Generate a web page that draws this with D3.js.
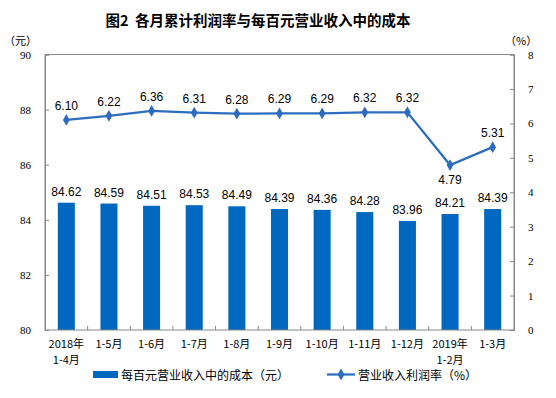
<!DOCTYPE html>
<html>
<head>
<meta charset="utf-8">
<script src="https://cdn.jsdelivr.net/npm/d3@7"></script>
<style>
  body { margin: 0; background: #fff; }
  svg text { font-family: "Noto Sans CJK SC", sans-serif; }
  .tick text { font-family: "Liberation Serif", serif; font-size: 11px; fill: #000; }
  .val { font-family: "Liberation Sans", Arial, sans-serif; font-size: 12px; fill: #000; }
</style>
</head>
<body>
<div id="chart-area"></div>
<script>
const width = 556,
  height = 398;

const months = ["2018年\n1-4月", "1-5月", "1-6月", "1-7月", "1-8月", "1-9月", "1-10月", "1-11月", "1-12月", "2019年\n1-2月", "1-3月"];
const cost = [84.62, 84.59, 84.51, 84.53, 84.49, 84.39, 84.36, 84.28, 83.96, 84.21, 84.39];
const margin = [6.10, 6.22, 6.36, 6.31, 6.28, 6.29, 6.29, 6.32, 6.32, 4.79, 5.31];
const leftTicks = [80, 82, 84, 86, 88, 90];
const rightTicks = [0, 1, 2, 3, 4, 5, 6, 7, 8];

const plotL = 45, plotR = 514, plotT = 54.5, plotB = 330;
const barColor = "#0068bf", lineColor = "#2e6cc0";

const x = d3.scaleBand().domain(months).range([plotL, plotR]).paddingInner(0.6).paddingOuter(0.3);
const y = d3.scaleLinear().domain([80, 90]).range([plotB, plotT]);
const y2 = d3.scaleLinear().domain([0, 8]).range([plotB, plotT]);

const svg = d3.select("#chart-area").append("svg")
  .attr("width", width)
  .attr("height", height);

svg.append("text")
  .attr("x", 258).attr("y", 26)
  .attr("text-anchor", "middle")
  .style("font-size", "14.5px").style("font-weight", "bold")
  .style("white-space", "pre")
  .text("图2  各月累计利润率与每百元营业收入中的成本");

svg.append("text").attr("x", 4).attr("y", 45).style("font-size", "11px").text("（元）");
svg.append("text").attr("x", 505).attr("y", 45).style("font-size", "11px").text("（%）");

// bars
svg.selectAll(".bar").data(cost).join("rect")
  .attr("class", "bar")
  .attr("x", (d, i) => x(months[i]))
  .attr("width", x.bandwidth())
  .attr("y", d => y(d))
  .attr("height", d => y(80) - y(d))
  .attr("fill", barColor);

svg.selectAll(".barlab").data(cost).join("text")
  .attr("class", "val")
  .attr("x", (d, i) => x(months[i]) + x.bandwidth() / 2)
  .attr("y", d => y(d) - 7)
  .attr("text-anchor", "middle")
  .text(d => d.toFixed(2));

// frame
svg.append("rect")
  .attr("x", plotL).attr("y", plotT)
  .attr("width", plotR - plotL).attr("height", plotB - plotT)
  .attr("fill", "none").attr("stroke", "#888").attr("stroke-width", 1);

// axes
const yAxis = svg.append("g").attr("transform", `translate(${plotL},0)`)
  .call(d3.axisLeft(y).tickValues(leftTicks).tickSize(-4).tickPadding(14));
const y2Axis = svg.append("g").attr("transform", `translate(${plotR},0)`)
  .call(d3.axisRight(y2).tickValues(rightTicks).tickSize(-4).tickPadding(14));
[yAxis, y2Axis].forEach(g => {
  g.select(".domain").attr("stroke", "#888");
  g.selectAll(".tick line").attr("stroke", "#888");
});

// category separators on the bottom
const step = x.step();
svg.selectAll(".sep").data(d3.range(1, months.length)).join("line")
  .attr("x1", i => x(months[i]) - (step - x.bandwidth()) / 2)
  .attr("x2", i => x(months[i]) - (step - x.bandwidth()) / 2)
  .attr("y1", plotB).attr("y2", plotB - 4)
  .attr("stroke", "#888");

// x labels
const xl = svg.selectAll(".xlab").data(months).join("text")
  .attr("text-anchor", "middle")
  .style("font-size", "11px")
  .attr("transform", d => `translate(${x(d) + x.bandwidth() / 2},${plotB + 18})`);
xl.selectAll("tspan").data(d => d.split("\n")).join("tspan")
  .attr("x", 0).attr("dy", (d, i) => i ? 16 : 0).text(d => d);

// line
const line = d3.line().x((d, i) => x(months[i]) + x.bandwidth() / 2).y(d => y2(d));
svg.append("path").datum(margin)
  .attr("d", line).attr("fill", "none")
  .attr("stroke", lineColor).attr("stroke-width", 2.25);

const diamond = d3.symbol().type(d3.symbolDiamond).size(40);
svg.selectAll(".pt").data(margin).join("path")
  .attr("d", diamond)
  .attr("transform", (d, i) => `translate(${x(months[i]) + x.bandwidth() / 2},${y2(d)})`)
  .attr("fill", lineColor);

svg.selectAll(".linelab").data(margin).join("text")
  .attr("class", "val")
  .attr("x", (d, i) => x(months[i]) + x.bandwidth() / 2)
  .attr("y", (d, i) => i === 9 ? y2(d) + 19 : y2(d) - 10)
  .attr("text-anchor", "middle")
  .text(d => d.toFixed(2));

// legend
svg.append("rect").attr("x", 93).attr("y", 371).attr("width", 25).attr("height", 7).attr("fill", barColor);
svg.append("text").attr("x", 121).attr("y", 379.5).style("font-size", "12px").text("每百元营业收入中的成本（元）");
svg.append("line").attr("x1", 327).attr("x2", 355).attr("y1", 374.5).attr("y2", 374.5)
  .attr("stroke", lineColor).attr("stroke-width", 2.25);
svg.append("path").attr("d", diamond).attr("transform", "translate(341,374.5)").attr("fill", lineColor);
svg.append("text").attr("x", 358).attr("y", 379.5).style("font-size", "12px").text("营业收入利润率（%）");
</script>
</body>
</html>
